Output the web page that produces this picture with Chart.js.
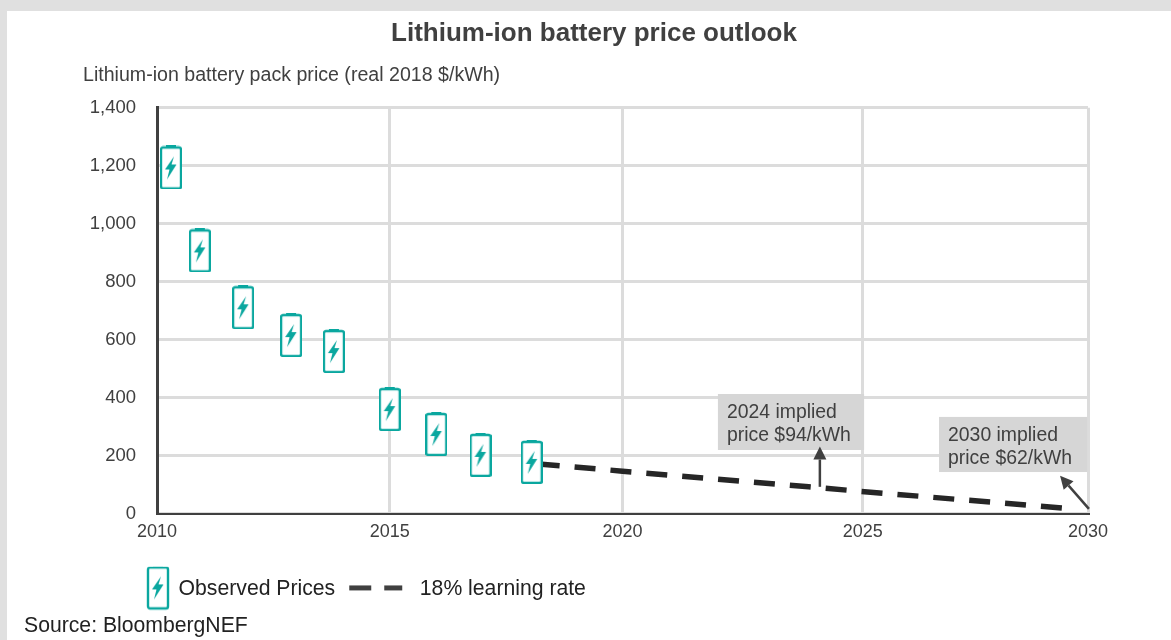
<!DOCTYPE html>
<html><head><meta charset="utf-8">
<style>
html,body{margin:0;padding:0;background:#e0e0e0;overflow:hidden}
#wrap{position:absolute;left:7px;top:11px;width:1164px;height:629px;background:#fff}
</style>
<script src="https://cdn.jsdelivr.net/npm/chart.js@4"></script>
</head><body>
<div id="wrap"><canvas id="c" width="1164" height="629"></canvas></div>
<script>
const chartTitle = 'Lithium-ion battery price outlook';
const yAxisTitle = 'Lithium-ion battery pack price (real 2018 $/kWh)';
const sourceText = 'Source: BloombergNEF';
const observedLabel = 'Observed Prices';
const learningLabel = '18% learning rate';
const observedYears = [2010.3, 2010.92, 2011.85, 2012.88, 2013.8, 2015, 2016, 2016.95, 2018.05];
const observedPrices = [1194, 908, 712, 616, 561, 361, 275, 203, 179];
const learningYears = [2018.2, 2020, 2024, 2025, 2029.72];
const learningPrices = [172, 147, 93, 79, 16];
const xTickValues = [2010, 2015, 2020, 2025.16, 2030];
const xTickLabels = ['2010', '2015', '2020', '2025', '2030'];
const callout1 = ['2024 implied', 'price $94/kWh'];
const callout2 = ['2030 implied', 'price $62/kWh'];

const TEAL = '#0aa79f', GREY = '#404040', GRID = '#dcdcdc';
const FONT = '"Liberation Sans", Arial, sans-serif';

function battery(ctx, ox, oy) {
  ctx.save(); ctx.translate(ox, oy);
  ctx.fillStyle = TEAL; ctx.fillRect(6, 0, 10, 3);
  ctx.beginPath(); ctx.roundRect(1, 2, 20, 41, 2);
  ctx.fillStyle = '#fff'; ctx.fill();
  ctx.strokeStyle = TEAL; ctx.lineWidth = 2.4; ctx.stroke();
  ctx.fillStyle = TEAL; ctx.beginPath();
  [[14,11],[5,24],[9.5,24],[7,34],[16.5,19],[11.5,19]].forEach((p,i)=> i?ctx.lineTo(p[0],p[1]):ctx.moveTo(p[0],p[1]));
  ctx.closePath(); ctx.fill(); ctx.restore();
}
function makeCanvas(w,h){const c=document.createElement('canvas');c.width=w;c.height=h;return c;}
const batteryIcon = makeCanvas(22,44); battery(batteryIcon.getContext('2d'),0,0);
const batteryLegend = makeCanvas(66,48); battery(batteryLegend.getContext('2d'),43,0);
const dashLegend = makeCanvas(66,48);
{const g=dashLegend.getContext('2d'); g.fillStyle='#404040'; g.fillRect(4,20,22,5); g.fillRect(39,20,18,5);}
const legendIcons = [batteryLegend, dashLegend];

const overlay = {
  id:'overlay',
  beforeDraw(chart){ chart.legend.left = 87; chart.legend.bottom = chart.legend.top + 60; },
  afterDatasetsDraw(chart){
    const {ctx, scales:{x,y}} = chart;
    const box=(x0,x1,v1,v0,lines)=>{
      const l=x.getPixelForValue(x0), r=x.getPixelForValue(x1), t=y.getPixelForValue(v1), b=y.getPixelForValue(v0);
      ctx.fillStyle='#d6d6d6'; ctx.fillRect(l,t,r-l,b-t);
      ctx.fillStyle=GREY; ctx.font='19.4px '+FONT; ctx.textAlign='left'; ctx.textBaseline='middle';
      lines.forEach((s,i)=>ctx.fillText(s,l+9,t+19+i*23));
    };
    const arrow=(xa,va,xb,vb)=>{
      const ax=x.getPixelForValue(xa),ay=y.getPixelForValue(va),bx=x.getPixelForValue(xb),by=y.getPixelForValue(vb);
      const ang=Math.atan2(by-ay,bx-ax),L=13,W=6.5;
      ctx.strokeStyle=GREY; ctx.lineWidth=2.5;
      ctx.beginPath(); ctx.moveTo(ax,ay); ctx.lineTo(bx-Math.cos(ang)*L,by-Math.sin(ang)*L); ctx.stroke();
      ctx.fillStyle=GREY; ctx.beginPath(); ctx.moveTo(bx,by);
      ctx.lineTo(bx-Math.cos(ang)*L-Math.sin(ang)*W,by-Math.sin(ang)*L+Math.cos(ang)*W);
      ctx.lineTo(bx-Math.cos(ang)*L+Math.sin(ang)*W,by-Math.sin(ang)*L-Math.cos(ang)*W);
      ctx.closePath(); ctx.fill();
    };
    ctx.save();
    box(2022.05,2025.19,413,220,callout1);
    box(2026.8,2029.98,334,144,callout2);
    arrow(2024.24,93,2024.24,232);
    arrow(2030.02,17,2029.4,131);
    ctx.restore();
  },
  afterDraw(chart){
    const {ctx}=chart; ctx.save();
    ctx.fillStyle='#222'; ctx.font='21.2px '+FONT; ctx.textAlign='left'; ctx.textBaseline='middle';
    ctx.fillText(sourceText,17,615); ctx.restore();
  }
};

new Chart(document.getElementById('c'),{
  type:'line',
  plugins:[overlay],
  data:{datasets:[
    {label:observedLabel,data:observedYears.map((v,i)=>({x:v,y:observedPrices[i]})),showLine:false,pointStyle:batteryIcon,pointRadius:11,pointHoverRadius:11,borderColor:TEAL,backgroundColor:TEAL},
    {label:learningLabel,data:learningYears.map((v,i)=>({x:v,y:learningPrices[i]})),borderColor:'#262626',backgroundColor:'#262626',borderWidth:5.5,borderDash:[21,15],pointRadius:0,tension:0}
  ]},
  options:{
    responsive:false,animation:false,
    layout:{padding:{left:76,right:66,top:7,bottom:30}},
    plugins:{
      title:{display:true,text:chartTitle,color:GREY,font:{family:FONT,size:26,weight:'bold'},padding:{top:0,bottom:15}},
      subtitle:{display:true,text:yAxisTitle,align:'start',color:GREY,font:{family:FONT,size:19.6},padding:{top:0,bottom:20}},
      legend:{display:true,position:'bottom',align:'start',labels:{usePointStyle:true,pointStyleWidth:62,color:'#222',font:{family:FONT,size:21.2},padding:12,
        generateLabels(chart){
          return Chart.defaults.plugins.legend.labels.generateLabels(chart).map((it,i)=>({...it,pointStyle:legendIcons[i]}));
        }}},
      tooltip:{enabled:false}
    },
    scales:{
      x:{type:'linear',min:2010,max:2030,
        afterBuildTicks(s){s.ticks=xTickValues.map(value=>({value}));},
        afterFit(s){s.height=53;s.paddingRight=83;},
        grid:{color:GRID,lineWidth:3,drawTicks:false},
        border:{display:true,color:GREY,width:2},
        ticks:{color:GREY,font:{family:FONT,size:18},padding:7,maxRotation:0,autoSkip:false,callback:(v,i)=>xTickLabels[i]}},
      y:{min:0,max:1400,
        afterFit(s){s.width=74;},
        grid:{color:GRID,lineWidth:3,drawTicks:false},
        border:{display:true,color:GREY,width:3},
        ticks:{stepSize:200,color:GREY,font:{family:FONT,size:18.5},padding:21,callback:v=>v.toLocaleString('en-US')}}
    }
  }
});
</script>
</body></html>
